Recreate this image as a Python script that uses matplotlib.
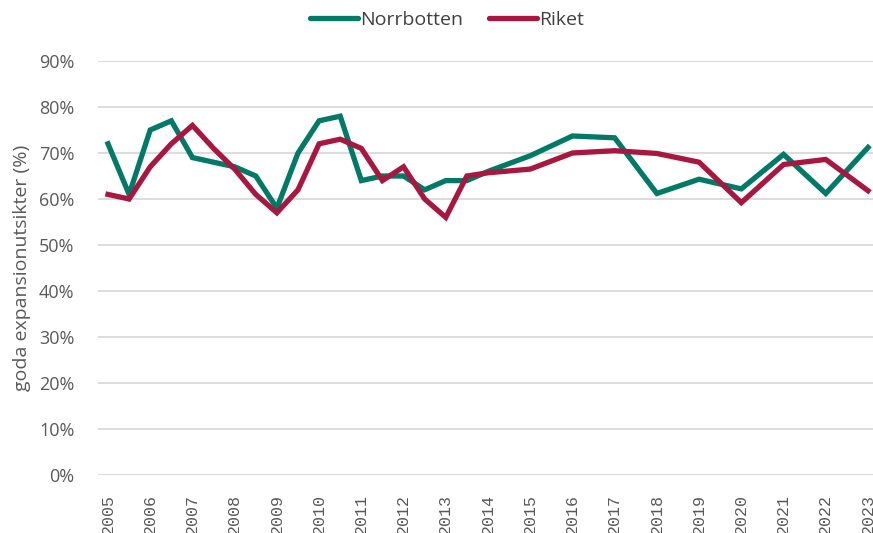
import matplotlib
matplotlib.use("Agg")
import matplotlib.pyplot as plt
from matplotlib.ticker import FuncFormatter

years = [2005, 2005.5, 2006, 2006.5, 2007, 2007.5, 2008, 2008.5, 2009, 2009.5,
         2010, 2010.5, 2011, 2011.5, 2012, 2012.5, 2013, 2013.5,
         2014, 2015, 2016, 2017, 2018, 2019, 2020, 2021, 2022, 2023]
norrbotten = [72, 61, 75, 77, 69, 68, 67, 65, 58, 70,
              77, 78, 64, 65, 65, 62, 64, 64,
              66, 69.4, 73.7, 73.3, 61.2, 64.3, 62.2, 69.7, 61.2, 71.2]
riket = [61, 60, 67, 72, 76, 71, 66.5, 61, 57, 62,
         72, 73, 71, 64, 67, 60, 56, 65,
         65.7, 66.5, 70, 70.5, 69.9, 68, 59.2, 67.5, 68.6, 61.8]
tick_years = list(range(2005, 2024))
yticks = [0, 10, 20, 30, 40, 50, 60, 70, 80, 90]

GREEN = "#007A66"
RED = "#A8173F"
TXT = "#595959"

fig = plt.figure(figsize=(8.73, 5.33), dpi=100)
ax = fig.add_axes([98/873, 1-475/533, 775/873, (475-61)/533])

ax.plot(years, norrbotten, color=GREEN, lw=3.8, solid_joinstyle="miter", label="Norrbotten", zorder=3)
ax.plot(years, riket, color=RED, lw=3.8, solid_joinstyle="miter", label="Riket", zorder=3)

ax.set_xlim(2005 - 10/42.22, 2023 + 5/42.22)
ax.set_ylim(0, 90)
ax.set_yticks(yticks)
ax.yaxis.set_major_formatter(FuncFormatter(lambda v, p: f"{int(v)}%"))
ax.set_xticks(tick_years)
ax.set_xticklabels([str(y) for y in tick_years], rotation=90, family="Liberation Mono",
                   fontsize=12, color=TXT)
for t in ax.get_yticklabels():
    t.set_family("Open Sans")
    t.set_fontsize(13)
    t.set_color(TXT)
ax.tick_params(axis="both", length=0)
ax.tick_params(axis="y", pad=17)
ax.tick_params(axis="x", pad=14)
ax.grid(axis="y", color="#d9d9d9", lw=1.3)
ax.set_axisbelow(True)
for s in ax.spines.values():
    s.set_visible(False)

ax.set_ylabel("goda expansionutsikter (%)", family="Open Sans", fontsize=14, color=TXT, labelpad=6)

leg = fig.legend(loc="upper center", bbox_to_anchor=(0.512, 1.012), ncol=2, frameon=False,
                 prop={"family": "Open Sans", "size": 14}, handlelength=2.5, handletextpad=0.1,
                 columnspacing=1.3)
for t in leg.get_texts():
    t.set_color("#404040")
for h in leg.legend_handles:
    h.set_solid_capstyle("round")

fig.savefig("out.png", dpi=100)
